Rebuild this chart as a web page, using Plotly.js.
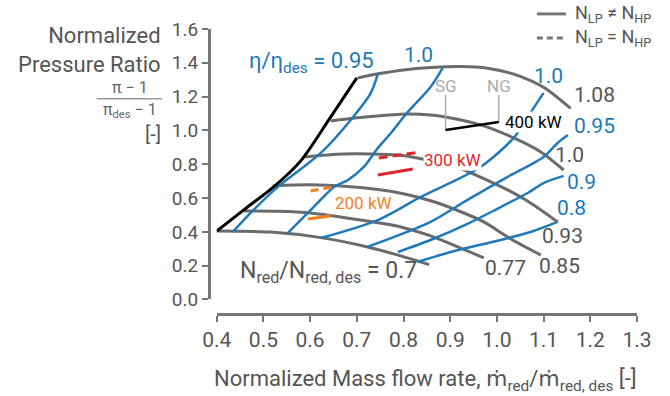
<!DOCTYPE html>
<html>
<head>
<meta charset="utf-8">
<script src="https://cdn.plot.ly/plotly-3.0.1.min.js"></script>
<style>html,body{margin:0;padding:0;background:#fff;}#chart{width:670px;height:396px;}</style>
</head>
<body>
<div id="chart"></div>
<script>
// ---- Speed lines N_red/N_red,des ----
const spd108X = [0.702, 0.745, 0.800, 0.860, 0.920, 0.980, 1.050, 1.100, 1.158];
const spd108Y = [1.311, 1.335, 1.358, 1.372, 1.378, 1.368, 1.320, 1.255, 1.130];
const spd100X = [0.644, 0.700, 0.745, 0.794, 0.858, 0.890, 0.965, 1.036, 1.094, 1.143];
const spd100Y = [1.056, 1.075, 1.086, 1.096, 1.092, 1.080, 1.033, 0.956, 0.873, 0.766];
const spd093X = [0.585, 0.672, 0.788, 0.830, 0.918, 0.980, 1.023, 1.072, 1.130];
const spd093Y = [0.843, 0.861, 0.855, 0.837, 0.778, 0.705, 0.648, 0.571, 0.459];
const spd085X = [0.520, 0.600, 0.680, 0.745, 0.800, 0.865, 0.920, 0.972, 1.030, 1.094];
const spd085Y = [0.672, 0.678, 0.668, 0.650, 0.625, 0.578, 0.522, 0.459, 0.358, 0.263];
const spd077X = [0.458, 0.530, 0.601, 0.708, 0.794, 0.858, 0.920, 0.972];
const spd077Y = [0.524, 0.522, 0.512, 0.470, 0.429, 0.376, 0.307, 0.246];
const spd070X = [0.400, 0.516, 0.623, 0.723, 0.794, 0.855];
const spd070Y = [0.405, 0.399, 0.366, 0.311, 0.258, 0.206];

// ---- Surge line ----
const surgeX = [0.400, 0.458, 0.522, 0.580, 0.640, 0.700];
const surgeY = [0.405, 0.530, 0.666, 0.820, 1.062, 1.311];

// ---- Efficiency contours eta/eta_des ----
const effL095X = [0.745, 0.730, 0.687, 0.623, 0.531, 0.479, 0.434];
const effL095Y = [1.334, 1.222, 1.062, 0.867, 0.666, 0.530, 0.399];
const effL100X = [0.884, 0.858, 0.809, 0.773, 0.745, 0.715, 0.681, 0.651, 0.616, 0.595, 0.552];
const effL100Y = [1.370, 1.257, 1.109, 0.985, 0.896, 0.784, 0.707, 0.666, 0.571, 0.512, 0.393];
const effR100X = [0.623, 0.745, 0.837, 0.965, 1.036, 1.066, 1.100];
const effR100Y = [0.364, 0.470, 0.607, 0.784, 0.956, 1.080, 1.222];
const effR095X = [0.723, 0.858, 0.937, 1.023, 1.100, 1.130, 1.152];
const effR095Y = [0.311, 0.459, 0.589, 0.725, 0.843, 0.926, 0.973];
const effR090X = [0.788, 0.858, 0.937, 1.008, 1.066, 1.100, 1.143];
const effR090Y = [0.281, 0.352, 0.447, 0.547, 0.630, 0.689, 0.731];
const effR080X = [0.830, 0.901, 1.008, 1.072, 1.130];
const effR080Y = [0.222, 0.281, 0.352, 0.399, 0.459];

// ---- Operating lines ----
const op400X = [0.890, 1.004];
const op400Y = [1.002, 1.050];
const sgX = [0.890, 0.890];
const sgY = [1.002, 1.210];
const ngX = [1.004, 1.004];
const ngY = [1.050, 1.210];
const op300DashX = [0.747, 0.835];
const op300DashY = [0.837, 0.872];
const op300SolidX = [0.745, 0.820];
const op300SolidY = [0.737, 0.772];
const op200DashX = [0.601, 0.651];
const op200DashY = [0.642, 0.666];
const op200SolidX = [0.595, 0.644];
const op200SolidY = [0.476, 0.494];

// ---- Tick labels ----
const xTicks = [0.4, 0.5, 0.6, 0.7, 0.8, 0.9, 1.0, 1.1, 1.2, 1.3];
const xTickText = ['0.4','0.5','0.6','0.7','0.8','0.9','1.0','1.1','1.2','1.3'];
const yTicks = [0.0, 0.2, 0.4, 0.6, 0.8, 1.0, 1.2, 1.4, 1.6];
const yTickText = ['0.0','0.2','0.4','0.6','0.8','1.0','1.2','1.4','1.6'];

const FONT = 'Roboto, "DejaVu Sans", sans-serif';
const GREY = '#6b6b6b';
const TXT = '#555555';
const BLUE = '#2279b8';
const RED = '#e0252b';
const ORANGE = '#f5821f';

function ln(x, y, color, width, dash, smooth) {
  return {x: x, y: y, type: 'scatter', mode: 'lines', hoverinfo: 'skip', showlegend: false,
          line: {color: color, width: width, dash: dash || 'solid',
                 shape: smooth ? 'spline' : 'linear', smoothing: smooth ? 0.8 : undefined}};
}

const traces = [
  ln(spd108X, spd108Y, GREY, 3, null, true), ln(spd100X, spd100Y, GREY, 3, null, true),
  ln(spd093X, spd093Y, GREY, 3, null, true), ln(spd085X, spd085Y, GREY, 3, null, true),
  ln(spd077X, spd077Y, GREY, 3, null, true), ln(spd070X, spd070Y, GREY, 3, null, true),
  ln(sgX, sgY, '#ababab', 1.5), ln(ngX, ngY, '#ababab', 1.5),
  ln(effL095X, effL095Y, BLUE, 2.5, null, true), ln(effL100X, effL100Y, BLUE, 2.5, null, true),
  ln(effR100X, effR100Y, BLUE, 2.5, null, true), ln(effR095X, effR095Y, BLUE, 2.5, null, true),
  ln(effR090X, effR090Y, BLUE, 2.5, null, true), ln(effR080X, effR080Y, BLUE, 2.5, null, true),
  ln(surgeX, surgeY, '#000000', 3, null, true),
  ln(op400X, op400Y, '#000000', 2.5),
  ln(op300DashX, op300DashY, RED, 3, '9px,5px'), ln(op300SolidX, op300SolidY, RED, 3),
  ln(op200DashX, op200DashY, ORANGE, 3, '8px,5px'), ln(op200SolidX, op200SolidY, ORANGE, 3)
];

function ann(x, y, text, color, size, extra) {
  return Object.assign({x: x, y: y, xref: 'x', yref: 'y', text: text, showarrow: false,
    font: {family: FONT, size: size, color: color}, xanchor: 'center', yanchor: 'middle'}, extra || {});
}
function pann(x, y, text, color, size, extra) {
  return Object.assign({x: x, y: y, xref: 'paper', yref: 'paper', text: text, showarrow: false,
    font: {family: FONT, size: size, color: color}, xanchor: 'center', yanchor: 'middle'}, extra || {});
}

const annotations = [
  // speed labels
  ann(1.209, 1.210, '1.08', TXT, 21),
  ann(1.156, 0.855, '1.0', TXT, 21),
  ann(1.141, 0.376, '0.93', TXT, 21),
  ann(1.134, 0.198, '0.85', TXT, 21),
  ann(1.019, 0.186, '0.77', TXT, 21),
  ann(0.445, 0.163, 'N<sub>red</sub>/N<sub>red, des</sub> = 0.7', TXT, 23, {xanchor: 'left'}),
  // efficiency labels
  ann(0.464, 1.399, 'η/η<sub>des</sub> = 0.95', BLUE, 22, {xanchor: 'left'}),
  ann(0.833, 1.447, '1.0', BLUE, 21),
  ann(1.111, 1.322, '1.0', BLUE, 21),
  ann(1.209, 1.027, '0.95', BLUE, 21),
  ann(1.182, 0.695, '0.9', BLUE, 21),
  ann(1.160, 0.541, '0.8', BLUE, 21),
  // operating labels
  ann(0.890, 1.263, 'SG', '#ababab', 17),
  ann(1.004, 1.263, 'NG', '#ababab', 17),
  ann(1.016, 1.050, '400 kW', '#000000', 17, {xanchor: 'left', bgcolor: '#ffffff', borderpad: 0}),
  ann(0.842, 0.825, '300 kW', RED, 17, {xanchor: 'left', bgcolor: '#ffffff', borderpad: 0}),
  ann(0.715, 0.571, '200 kW', ORANGE, 17),
  // y-axis title
  pann(-0.1075, 0.926, 'Normalized<br>Pressure Ratio', TXT, 22, {xanchor: 'right', align: 'right'}),
  pann(-0.185, 0.795, 'π − 1', '#666666', 16),
  pann(-0.185, 0.713, 'π<sub>des</sub> − 1', '#666666', 16),
  pann(-0.1075, 0.632, '[-]', TXT, 20, {xanchor: 'right'}),
  // x-axis title
  pann(0.505, -0.235, 'Normalized Mass flow rate, ṁ<sub>red</sub>/ṁ<sub>red, des</sub> [-]', TXT, 22),
  // legend
  pann(0.850, 1.053, 'N<sub>LP</sub> ≠ N<sub>HP</sub>', TXT, 18, {xanchor: 'left'}),
  pann(0.850, 0.968, 'N<sub>LP</sub> = N<sub>HP</sub>', TXT, 18, {xanchor: 'left'})
];

const shapes = [
  {type: 'line', xref: 'paper', yref: 'paper', x0: -0.262, x1: -0.110, y0: 0.755, y1: 0.755,
   line: {color: '#666666', width: 1}},
  {type: 'line', xref: 'paper', yref: 'paper', x0: 0.766, x1: 0.834, y0: 1.053, y1: 1.053,
   line: {color: '#777777', width: 3}},
  {type: 'line', xref: 'paper', yref: 'paper', x0: 0.766, x1: 0.834, y0: 0.968, y1: 0.968,
   line: {color: '#777777', width: 3, dash: '6px,4px'}}
];

const axisCommon = {
  showline: true, linecolor: '#767676', linewidth: 2.5, ticks: 'outside', ticklen: 6,
  tickwidth: 2, tickcolor: '#767676', showgrid: false, zeroline: false,
  anchor: 'free', position: 0, fixedrange: true
};

const layout = {
  width: 670, height: 396,
  margin: {l: 209, r: 33, t: 29, b: 82, pad: 0},
  paper_bgcolor: '#ffffff', plot_bgcolor: '#ffffff',
  showlegend: false,
  xaxis: Object.assign({}, axisCommon, {domain: [0.018, 1], range: [0.4, 1.3],
    tickmode: 'array', tickvals: xTicks, ticktext: xTickText,
    tickfont: {family: FONT, size: 21, color: TXT}}),
  yaxis: Object.assign({}, axisCommon, {domain: [0.0509, 1], range: [0, 1.6],
    tickmode: 'array', tickvals: yTicks, ticktext: yTickText,
    tickfont: {family: FONT, size: 19, color: TXT}}),
  annotations: annotations,
  shapes: shapes
};

Plotly.newPlot('chart', traces, layout, {displayModeBar: false, staticPlot: true});
</script>
</body>
</html>
